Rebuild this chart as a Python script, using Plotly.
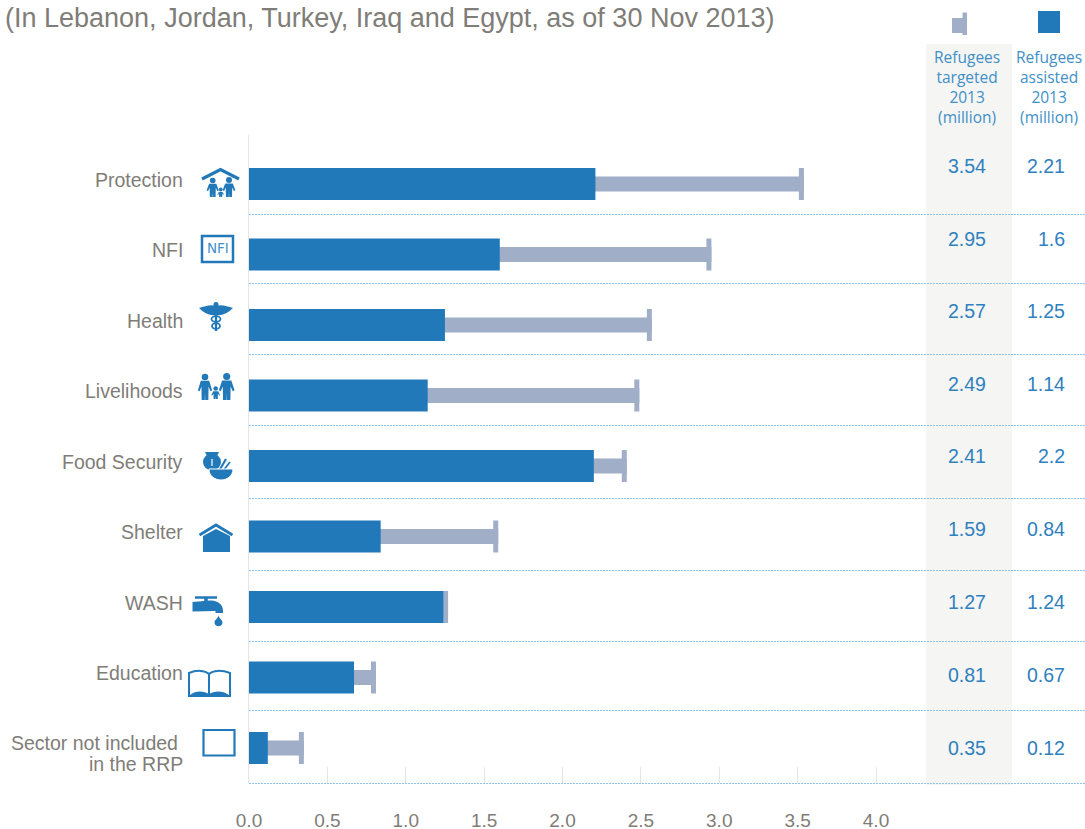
import re

import plotly.graph_objects as go

# ---------- data ----------
categories = [
    "Protection", "NFI", "Health", "Livelihoods", "Food Security",
    "Shelter", "WASH", "Education", "Sector not included&nbsp;<br>in the RRP",
]
targeted = [3.54, 2.95, 2.57, 2.49, 2.41, 1.59, 1.27, 0.81, 0.35]
assisted = [2.21, 1.6, 1.25, 1.14, 2.2, 0.84, 1.24, 0.67, 0.12]
x_ticks = [0, 0.5, 1, 1.5, 2, 2.5, 3, 3.5, 4]
x_tick_labels = ["0.0", "0.5", "1.0", "1.5", "2.0", "2.5", "3.0", "3.5", "4.0"]

title_text = "(In Lebanon, Jordan, Turkey, Iraq and Egypt, as of 30 Nov 2013)"
header_targeted = "Refugees<br>targeted<br>2013<br>(million)"
header_assisted = "Refugees<br>assisted<br>2013<br>(million)"

# ---------- layout constants (page pixels) ----------
WIDTH, HEIGHT = 1085, 829
LEFT, TOP, BOTTOM = 249, 135, 783
PX_PER_UNIT = 156.75
ROW_START, ROW_STEP = 184, 70.5

BLUE = "#2279b9"
SLATE = "#a0aec8"
TEXT_GREY = "#7f7d78"
VALUE_BLUE = "#2f80bf"
HEAD_BLUE = "#3f8fc8"
DOT_BLUE = "#8cc4ee"
AXIS_GREY = "#e4e4e4"
NO_FILL = "rgba(0,0,0,0)"

label_y = [180, 250, 321, 391, 462, 532, 603, 673, 743]
value_y = [166, 239, 311, 384, 456, 529, 602, 675, 748]
separator_y = [214.5, 283.5, 354.5, 425.5, 498.5, 570.5, 641.5, 710.5, 783.5]

BAR_H = 32 / ROW_STEP
THIN_H = 15 / ROW_STEP
CAP = 5 / PX_PER_UNIT


def px(x):
    return (x - LEFT) / (WIDTH - LEFT)


def py(y):
    return (BOTTOM - y) / (BOTTOM - TOP)


def to_paper(path):
    # path written in page pixels, absolute commands only
    out = []
    is_x = True
    for tok in re.findall(r"[MLCZ]|-?[\d.]+", path):
        if tok in "MLCZ":
            out.append(tok)
            is_x = True
        else:
            out.append(f"{px(float(tok)) if is_x else py(float(tok)):.5f}")
            is_x = not is_x
    return " ".join(out)


shapes = []


def draw(path, fill=BLUE, line=None, width=0):
    shapes.append(dict(
        type="path", path=to_paper(path), xref="paper", yref="paper",
        fillcolor=fill, line=dict(color=line or NO_FILL, width=width),
    ))


def ring(cx, cy, rx, ry, fill=BLUE, line=None, width=0):
    shapes.append(dict(
        type="circle", xref="paper", yref="paper",
        x0=px(cx - rx), x1=px(cx + rx), y0=py(cy + ry), y1=py(cy - ry),
        fillcolor=fill, line=dict(color=line or NO_FILL, width=width),
    ))


def person(cx, head_y, r, bottom, half):
    ring(cx, head_y, r, r)
    y0 = head_y + r + 0.5
    h = bottom - y0
    draw(
        f"M{cx - half} {y0} L{cx + half} {y0} L{cx + half * 1.7} {y0 + h * 0.5} "
        f"L{cx + half * 1.3} {y0 + h * 0.55} L{cx + half * 0.85} {y0 + h * 0.3} "
        f"L{cx + half * 0.8} {bottom} L{cx + 0.2} {bottom} L{cx} {y0 + h * 0.65} "
        f"L{cx - 0.2} {bottom} L{cx - half * 0.8} {bottom} L{cx - half * 0.85} {y0 + h * 0.3} "
        f"L{cx - half * 1.3} {y0 + h * 0.55} L{cx - half * 1.7} {y0 + h * 0.5} Z"
    )


# grey panel behind the targeted column
shapes.append(dict(
    type="rect", xref="paper", yref="paper", layer="below",
    x0=px(926), x1=px(1012), y0=py(785), y1=py(44),
    fillcolor="#f5f5f3", line=dict(width=0),
))

# dotted row separators
for sep in separator_y:
    shapes.append(dict(
        type="line", xref="paper", yref="paper",
        x0=px(LEFT), x1=px(WIDTH), y0=py(sep), y1=py(sep),
        line=dict(color=DOT_BLUE, width=1, dash="2px,1px"),
    ))

# legend keys
draw("M952 18 L963 18 L963 33 L952 33 Z", fill=SLATE)
draw("M962.5 12.5 L967 12.5 L967 35 L962.5 35 Z", fill=SLATE)
draw("M1038 11 L1060 11 L1060 33 L1038 33 Z")

# protection icon
draw("M202 179 L220.5 169.5 L239 179", fill=NO_FILL, line=BLUE, width=3.2)
person(212.7, 180.5, 2.8, 197, 3.6)
person(229, 180, 3, 197, 3.8)
person(220.7, 189.5, 1.9, 197, 1.9)

# NFI icon
draw("M202 236 L233 236 L233 262 L202 262 Z", fill="white", line=BLUE, width=2.5)

# health icon
draw("M199 308 C205 306 211 304 216 306 C221 304 227 306 233 308 "
     "C228 313 222 316 216 315 C210 316 204 313 199 308 Z")
ring(216, 304.5, 2.5, 2.5)
draw("M216 305 L216 331", fill=NO_FILL, line=BLUE, width=2.2)
ring(216, 319, 4.5, 2.8, fill=NO_FILL, line=BLUE, width=1.8)
ring(216, 326, 4, 2.8, fill=NO_FILL, line=BLUE, width=1.8)

# livelihoods icon
person(205, 377, 3.3, 400, 4.2)
person(226.7, 376.5, 3.6, 400, 4.6)
person(215.7, 388.5, 2.3, 399, 2.6)

# food security icon
ring(212, 462, 9, 8.5)
draw("M205 452 L219 452 L217 456 L207 456 Z")
draw("M219 471 L226 459", fill=NO_FILL, line=BLUE, width=2.2)
draw("M223 471 L230 462", fill=NO_FILL, line=BLUE, width=1.8)
draw("M209 469 L233 469 C233 476 227 480 221 480 C215 480 209 476 209 469 Z",
     line="white", width=1)
draw("M212 459 L212 466", fill=NO_FILL, line="white", width=1.2)

# shelter icon
draw("M199.5 535 L216 525 L232.5 535", fill=NO_FILL, line=BLUE, width=2.8)
draw("M203 536 L216 529 L230 536 L230 552 L203 552 Z")

# WASH icon
draw("M195 597.5 L217 597.5", fill=NO_FILL, line=BLUE, width=2.5)
draw("M206 597 L206 603", fill=NO_FILL, line=BLUE, width=3.5)
draw("M192.5 602 L210 600.5 C216 600.5 223 603 223 611 L223 613 L215.5 613 "
     "L215.5 611 L192.5 611.5 Z")
draw("M218.5 615.5 C219.5 619 222.5 620 222.5 622.5 C222.5 627.5 214.5 627.5 214.5 622.5 "
     "C214.5 620 217.5 619 218.5 615.5 Z")

# education icon
draw("M189 673 C196 670 205 670 209 674 C213 670 222 670 230 673 L230 696 L189 696 Z",
     fill="white", line=BLUE, width=2)
draw("M209 674 L209 696", fill=NO_FILL, line=BLUE, width=2)
draw("M190 695 C196 690 204 691 209 694 C214 691 222 690 229 695 Z")

# empty box icon
draw("M203.5 730 L234.5 730 L234.5 755.5 L203.5 755.5 Z", fill="white", line=BLUE, width=2.2)

# ---------- bars ----------
fig = go.Figure()

fig.add_trace(go.Bar(
    y=categories, x=targeted, orientation="h", width=THIN_H,
    marker=dict(color=SLATE, line=dict(width=0)), name="Refugees targeted",
))
fig.add_trace(go.Bar(
    y=categories, x=[CAP] * len(targeted), base=[t - CAP for t in targeted],
    orientation="h", width=BAR_H, marker=dict(color=SLATE, line=dict(width=0)),
    hoverinfo="skip", showlegend=False,
))
fig.add_trace(go.Bar(
    y=categories, x=assisted, orientation="h", width=BAR_H,
    marker=dict(color=BLUE, line=dict(width=0)), name="Refugees assisted",
))

# ---------- text ----------
annotations = []


def text(x, y, s, size, color, family="Liberation Sans", anchor="center", align="center"):
    annotations.append(dict(
        xref="paper", yref="paper", x=px(x), y=py(y), text=s, showarrow=False,
        xanchor=anchor, yanchor="middle", align=align,
        font=dict(family=family, size=size, color=color),
    ))


for name, ly in zip(categories, label_y):
    # two-line label sits tighter than plotly's default line height
    for i, part in enumerate(name.split("<br>")):
        text(185, ly + 21 * i, part, 19.5, TEXT_GREY, anchor="right", align="right")

for t, a, vy in zip(targeted, assisted, value_y):
    text(988, vy, f"{t:.2f}", 19.5, VALUE_BLUE, anchor="right")
    text(1067, vy, f"{a:g}", 19.5, VALUE_BLUE, anchor="right")

text(967, 87, header_targeted, 15.5, HEAD_BLUE, family="Open Sans")
text(1049, 87, header_assisted, 15.5, HEAD_BLUE, family="Open Sans")
text(217.5, 248, "NFI", 13.5, HEAD_BLUE, family="DejaVu Sans")

fig.update_layout(
    width=WIDTH,
    height=HEIGHT,
    template="none",
    barmode="overlay",
    showlegend=False,
    paper_bgcolor="white",
    plot_bgcolor="rgba(0,0,0,0)",
    margin=dict(l=LEFT, r=0, t=TOP, b=HEIGHT - BOTTOM, pad=0),
    title=dict(
        text=title_text, x=5 / WIDTH, xanchor="left", y=1 - 18 / HEIGHT, yanchor="middle",
        font=dict(family="Liberation Sans", size=27, color=TEXT_GREY),
    ),
    xaxis=dict(
        range=[0, (WIDTH - LEFT) / PX_PER_UNIT],
        tickmode="array", tickvals=x_ticks, ticktext=x_tick_labels,
        ticks="inside", ticklen=16, tickcolor=AXIS_GREY, tickwidth=1,
        ticklabelstandoff=24,
        tickfont=dict(family="Liberation Sans", size=19, color=TEXT_GREY),
        showgrid=False, zeroline=False, showline=False,
    ),
    yaxis=dict(
        type="category", categoryorder="array", categoryarray=categories,
        range=[(BOTTOM - ROW_START) / ROW_STEP, (TOP - ROW_START) / ROW_STEP],
        showticklabels=False, ticks="", showgrid=False, zeroline=False,
        showline=True, linecolor=AXIS_GREY, linewidth=1,
    ),
    shapes=shapes,
    annotations=annotations,
)

fig.write_html(
    "out.html",
    config={"displayModeBar": False},
    post_script="document.body.style.margin = '0';",
)
